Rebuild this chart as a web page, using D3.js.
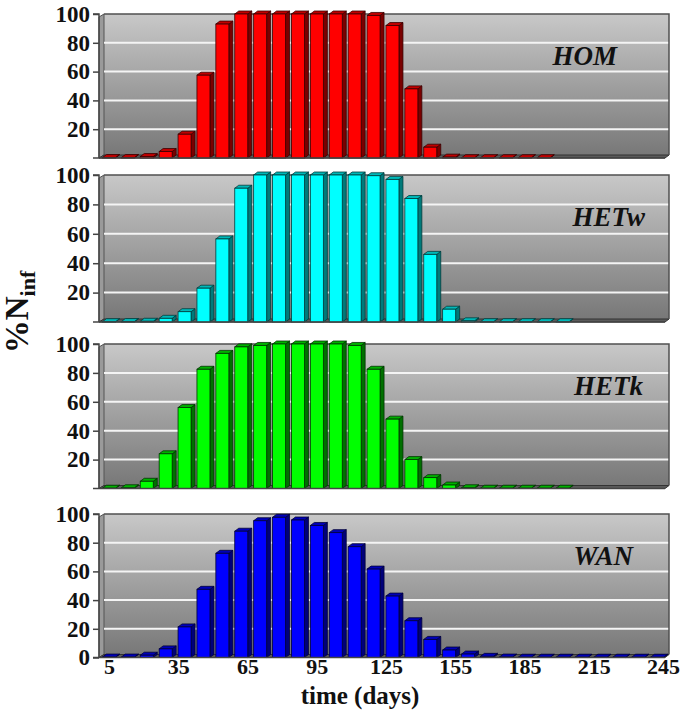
<!DOCTYPE html>
<html>
<head>
<meta charset="utf-8">
<script src="https://cdn.jsdelivr.net/npm/d3@7/dist/d3.min.js"></script>
<style>
  html, body { margin: 0; padding: 0; background: #fff; }
  svg { display: block; }
</style>
</head>
<body>
<svg id="chart" width="681" height="711"></svg>
<script>
// Sampling instants (30 samples) and the day labels shown on the time axis
const sampleIndex = d3.range(30);
const dayTicks = [5, 35, 65, 95, 125, 155, 185, 215, 245];
const valueTicks = [20, 40, 60, 80, 100];

// Share of infected nodes (%) per sample, one array per network model
const seriesNames = ["HOM", "HETw", "HETk", "WAN"];
const homValues  = [0.3, 0.3, 1, 4.5, 16.5, 57.5, 93, 100, 100, 100, 100, 100, 100, 100, 99, 92, 48, 7.5, 0.6, 0.2, 0.2, 0.2, 0.2, 0.2, 0, 0, 0, 0, 0, 0];
const hetwValues = [0.2, 0.3, 0.5, 2.5, 7, 23, 56.5, 91, 100, 100, 100, 100, 100, 100, 99.5, 97, 84, 46, 8.7, 0.8, 0.2, 0.2, 0.2, 0.2, 0.2, 0, 0, 0, 0, 0];
const hetkValues = [0.2, 0.5, 5, 24, 56, 82.5, 93.5, 98, 99, 100, 100, 100, 100, 99, 82.5, 48, 20, 7.5, 2.4, 0.5, 0.2, 0.2, 0.2, 0.2, 0.2, 0, 0, 0, 0, 0];
const wanValues  = [0.3, 0.3, 1.6, 6, 21.3, 47.5, 72.6, 88, 95.3, 97.7, 95.8, 92, 87, 77.2, 61.6, 42.8, 25.6, 12.6, 5.2, 2.4, 0.8, 0.3, 0.2, 0.2, 0.2, 0.2, 0.2, 0.2, 0.2, 0.2];
const allValues = [homValues, hetwValues, hetkValues, wanValues];

// Bar colours: front face, side face, top face, outline
const palettes = [
  { front: "#ff0000", side: "#7a0000", top: "#c00000", edge: "#3a0000" },
  { front: "#00ffff", side: "#007a7a", top: "#00b8b8", edge: "#003c3c" },
  { front: "#00ff00", side: "#007000", top: "#00b000", edge: "#003300" },
  { front: "#0000ff", side: "#00007a", top: "#0000b8", edge: "#00003a" }
];

// ---- layout ----
const svg = d3.select("#chart");
const axisX = 99;          // front value axis
const wallLeft = 104, wallRight = 669;
const depthX = 4, depthY = 3;
const panelTop  = [14, 175, 344, 514];
const panelZero = [158, 322, 488.5, 657.5];
const labelRight = [617, 645, 643, 633];
const serif = "'Liberation Serif', 'Times New Roman', serif";

const xBand = d3.scaleBand().domain(sampleIndex).range([100.5, 667.5]).paddingInner(0).paddingOuter(0);
const xDays = d3.scaleLinear().domain([5, 245]).range([109, 663]);
const barW = 13;

const defs = svg.append("defs");
const grad = defs.append("linearGradient").attr("id", "wallGrad")
  .attr("x1", 0).attr("y1", 0).attr("x2", 0).attr("y2", 1);
grad.append("stop").attr("offset", "0%").attr("stop-color", "#c8c8c8");
grad.append("stop").attr("offset", "100%").attr("stop-color", "#787878");

seriesNames.forEach((name, p) => {
  const values = allValues[p];
  const pal = palettes[p];
  const y = d3.scaleLinear().domain([0, 100]).range([panelZero[p], panelTop[p]]);
  const g = svg.append("g");
  const top = y(100), zero = y(0);

  // back wall
  g.append("rect")
    .attr("x", wallLeft).attr("y", top)
    .attr("width", wallRight - wallLeft).attr("height", zero - depthY - top)
    .attr("fill", "url(#wallGrad)");

  // side wall on the left
  g.append("path")
    .attr("d", `M${axisX},${top + depthY}L${wallLeft},${top}L${wallLeft},${zero - depthY}L${axisX},${zero}Z`)
    .attr("fill", "#9a9a9a").attr("stroke", "#555").attr("stroke-width", 1);

  // gridlines
  g.selectAll(".grid").data(valueTicks.filter(v => v < 100)).join("line")
    .attr("x1", wallLeft).attr("x2", wallRight)
    .attr("y1", d => y(d)).attr("y2", d => y(d))
    .attr("stroke", "#f4f4f4").attr("stroke-width", 2);

  // floor
  g.append("path")
    .attr("d", `M${axisX},${zero}L${wallLeft},${zero - depthY}L${wallRight},${zero - depthY}L${wallRight - depthX},${zero}Z`)
    .attr("fill", "#5a5a5a").attr("stroke", "#333").attr("stroke-width", 1);

  // wall outline (top and right edges)
  g.append("path")
    .attr("d", `M${wallLeft},${top}L${wallRight},${top}L${wallRight},${zero - depthY}`)
    .attr("fill", "none").attr("stroke", "#505050").attr("stroke-width", 1.5);

  // 3-D bars (samples with no infection at all are left empty)
  const bars = g.selectAll(".bar").data(values.map((v, i) => ({ i, v })).filter(d => d.v > 0)).join("g");
  bars.each(function (d) {
    const bx = xBand(d.i) + xBand.bandwidth() / 2 - 7.5;
    const by = y(d.v);
    const sel = d3.select(this);
    sel.append("path")
      .attr("d", `M${bx + barW},${by}L${bx + barW + depthX},${by - depthY}L${bx + barW + depthX},${zero - depthY}L${bx + barW},${zero}Z`)
      .attr("fill", pal.side).attr("stroke", pal.edge).attr("stroke-width", 0.8);
    sel.append("path")
      .attr("d", `M${bx},${by}L${bx + depthX},${by - depthY}L${bx + barW + depthX},${by - depthY}L${bx + barW},${by}Z`)
      .attr("fill", pal.top).attr("stroke", pal.edge).attr("stroke-width", 0.8);
    sel.append("rect")
      .attr("x", bx).attr("y", by).attr("width", barW).attr("height", Math.max(0, zero - by))
      .attr("fill", pal.front).attr("stroke", pal.edge).attr("stroke-width", 0.8);
  });

  // value axis
  const ticks = p === 3 ? [0].concat(valueTicks) : valueTicks;
  const axis = d3.axisLeft(y).tickValues(ticks).tickSize(6).tickPadding(3).tickFormat(d3.format("d"));
  const ag = svg.append("g").attr("transform", `translate(${axisX},0)`).call(axis)
    .attr("font-family", serif).attr("font-size", 23).attr("font-weight", "bold");
  ag.select(".domain").attr("stroke", "#444").attr("stroke-width", 1.5)
    .attr("d", `M-6,${top}H0V${zero}`);
  ag.selectAll(".tick line").attr("stroke", "#444").attr("stroke-width", 1.5);
  ag.selectAll(".tick text").attr("fill", "#111");

  // front edge of the floor
  svg.append("line")
    .attr("x1", axisX - 6).attr("x2", wallRight - depthX)
    .attr("y1", zero).attr("y2", zero)
    .attr("stroke", "#444").attr("stroke-width", 1.5);

  // series name
  svg.append("text")
    .attr("x", labelRight[p]).attr("y", top + 51)
    .attr("text-anchor", "end")
    .attr("font-family", serif)
    .attr("font-weight", "bold").attr("font-style", "italic")
    .attr("font-size", 27).attr("fill", "#111")
    .text(name);

  // time axis on the last panel
  if (p === 3) {
    const xa = svg.append("g").attr("transform", `translate(0,${zero})`)
      .call(d3.axisBottom(xDays).tickValues(dayTicks).tickSize(0).tickPadding(1).tickFormat(d3.format("d")))
      .attr("font-family", serif).attr("font-size", 22).attr("font-weight", "bold");
    xa.select(".domain").remove();
    xa.selectAll(".tick text").attr("fill", "#111");
  }
});

// axis titles
svg.append("text")
  .attr("x", 360).attr("y", 704)
  .attr("text-anchor", "middle")
  .attr("font-family", serif).attr("font-weight", "bold").attr("font-size", 25)
  .attr("fill", "#111")
  .text("time (days)");

const yt = svg.append("text")
  .attr("transform", "translate(28,312) rotate(-90)")
  .attr("text-anchor", "middle")
  .attr("font-family", serif).attr("font-weight", "bold").attr("font-size", 33)
  .attr("fill", "#111");
yt.append("tspan").text("%N");
yt.append("tspan").attr("font-size", 22).attr("dy", 7).text("inf");
</script>
</body>
</html>
